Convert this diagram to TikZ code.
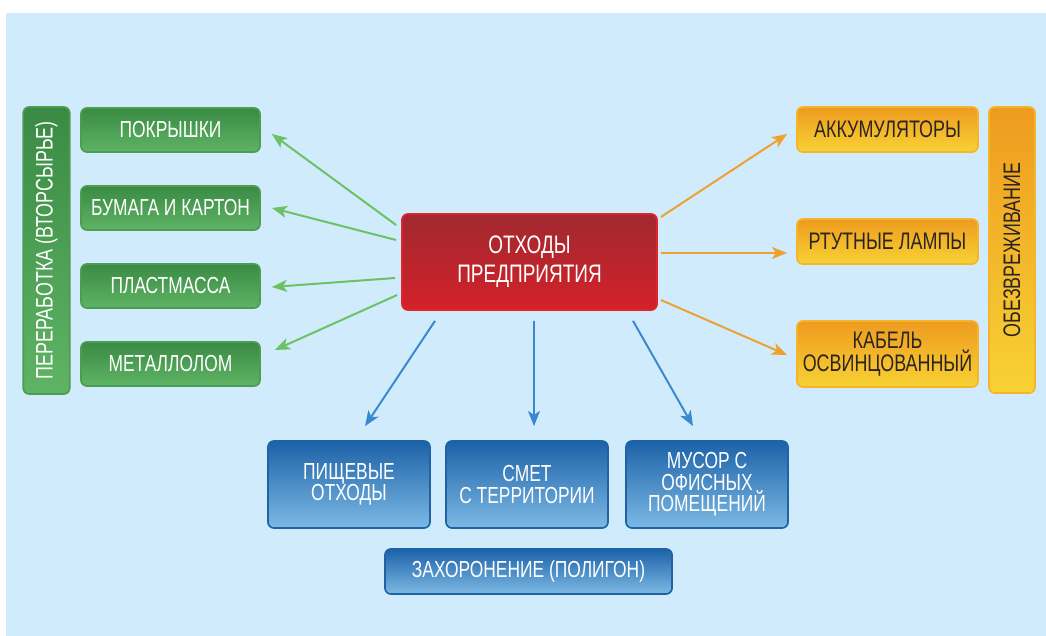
\documentclass[tikz,border=0pt]{standalone}
\usepackage{fontspec}
\setmainfont[FakeStretch=0.75]{Liberation Sans}
\usepackage{xcolor}
\usetikzlibrary{arrows.meta}

\definecolor{bgblue}{HTML}{D0EBFC}
\definecolor{grtop}{HTML}{3A8A44}
\definecolor{grbot}{HTML}{5FB464}
\definecolor{grline}{HTML}{4C9C52}
\definecolor{rdtop}{HTML}{A0292F}
\definecolor{rdbot}{HTML}{D42129}
\definecolor{rdline}{HTML}{DE252B}
\definecolor{ortop}{HTML}{EE9B1F}
\definecolor{orbot}{HTML}{F8D234}
\definecolor{orline}{HTML}{F4B52A}
\definecolor{bltop}{HTML}{1C62A8}
\definecolor{blbot}{HTML}{7DB9E4}
\definecolor{blline}{HTML}{1F63A6}
\definecolor{garr}{HTML}{6CC164}
\definecolor{oarr}{HTML}{F0A02E}
\definecolor{barr}{HTML}{3A88CF}
\definecolor{txtdark}{HTML}{2B2520}

\begin{document}
\begin{tikzpicture}[x=0.025cm,y=-0.025cm,
  box/.style={rounded corners=0.15cm,line width=1.2pt,align=center,inner sep=2pt},
  gbox/.style={box,draw=grline,top color=grtop,bottom color=grbot,text=white,
    font=\fontsize{16.5}{17}\selectfont,minimum width=4.475cm,minimum height=1.1cm},
  obox/.style={box,draw=orline,top color=ortop,bottom color=orbot,text=txtdark,
    font=\fontsize{17}{16.3}\selectfont,minimum width=4.525cm,minimum height=1.125cm},
  bbox/.style={box,draw=blline,top color=bltop,bottom color=blbot,text=white,
    font=\fontsize{16.5}{15.2}\selectfont,minimum width=4.05cm,minimum height=2.175cm},
  rbox/.style={box,draw=rdline,top color=rdtop,bottom color=rdbot,text=white,
    font=\fontsize{18}{20.5}\selectfont,minimum width=6.375cm,minimum height=2.4cm},
  vbar/.style={rotate=90,font=\fontsize{17}{18}\selectfont,minimum width=7.175cm,minimum height=1.16cm},
  garrow/.style={draw=garr,line width=1.4pt,-{Stealth[length=0.38cm,width=0.3cm,inset=0.1cm]}},
  oarrow/.style={draw=oarr,line width=1.4pt,-{Stealth[length=0.38cm,width=0.3cm,inset=0.1cm]}},
  barrow/.style={draw=barr,line width=1.4pt,-{Stealth[length=0.38cm,width=0.3cm,inset=0.1cm]}}]
  \useasboundingbox (0,0) rectangle (1046,636);
  \fill[bgblue] (6,13) rectangle (1046,636);

  \path (529.5,262) node[rbox] (ow) {ОТХОДЫ\\ПРЕДПРИЯТИЯ};

  \path (46.5,250.5) node[gbox,vbar] (pv) {ПЕРЕРАБОТКА (ВТОРСЫРЬЕ)};
  \path (170.5,130)
    node[gbox] (pk) {ПОКРЫШКИ} ++(0,78)
    node[gbox] (bk) {БУМАГА И КАРТОН} ++(0,78)
    node[gbox] (pm) {ПЛАСТМАССА} ++(0,78)
    node[gbox] (ml) {МЕТАЛЛОЛОМ};

  \path (1012,250) node[obox,vbar,minimum width=7.15cm,minimum height=1.15cm] (ob) {ОБЕЗВРЕЖИВАНИЕ};
  \path (887.5,129.5)
    node[obox] (ak) {АККУМУЛЯТОРЫ} ++(0,112)
    node[obox] (rl) {РТУТНЫЕ ЛАМПЫ} ++(0,112.5)
    node[obox,minimum height=1.65cm] (ko) {КАБЕЛЬ\\ОСВИНЦОВАННЫЙ};

  \path (349,484.5)
    node[bbox] (po) {ПИЩЕВЫЕ\\ОТХОДЫ} ++(178,0)
    node[bbox] (sm) {СМЕТ\\С ТЕРРИТОРИИ} ++(180,0)
    node[bbox] (mu) {МУСОР С\\ОФИСНЫХ\\ПОМЕЩЕНИЙ};
  \path (528.5,571.5) node[bbox,minimum width=7.175cm,minimum height=1.125cm] (zp) {ЗАХОРОНЕНИЕ (ПОЛИГОН)};

  \path (node cs:name=ow,anchor=west) +(-5,-37) coordinate (g1s) {};
  \path (node cs:name=pk,anchor=east) +(11,4) coordinate (g1e) {};
  \draw[garrow] (g1s) -- (g1e);
  \path (node cs:name=ow,anchor=west) +(-5,-22) coordinate (g2s) {};
  \path (node cs:name=bk,anchor=east) +(11,0) coordinate (g2e) {};
  \draw[garrow] (g2s) -- (g2e);
  \path (node cs:name=ow,anchor=west) +(-6,16) coordinate (g3s) {};
  \path (node cs:name=pm,anchor=east) +(11,1) coordinate (g3e) {};
  \draw[garrow] (g3s) -- (g3e);
  \path (node cs:name=ow,anchor=west) +(-4,33) coordinate (g4s) {};
  \path (node cs:name=ml,anchor=east) +(14,-14) coordinate (g4e) {};
  \draw[garrow] (g4s) -- (g4e);

  \path (node cs:name=ow,anchor=east) +(3,-45) coordinate (o1s) {};
  \path (node cs:name=ak,anchor=west) +(-9,4.5) coordinate (o1e) {};
  \draw[oarrow] (o1s) -- (o1e);
  \path (node cs:name=ow,anchor=east) +(3,-9) coordinate (o2s) {};
  \path (node cs:name=rl,anchor=west) +(-9,11.5) coordinate (o2e) {};
  \draw[oarrow] (o2s) -- (o2e);
  \path (node cs:name=ow,anchor=east) +(3,38) coordinate (o3s) {};
  \path (node cs:name=ko,anchor=west) +(-9,1) coordinate (o3e) {};
  \draw[oarrow] (o3s) -- (o3e);

  \path (node cs:name=ow,anchor=south) +(-94.5,10) coordinate (b1s) {};
  \path (node cs:name=po,anchor=north) +(16,-14) coordinate (b1e) {};
  \draw[barrow] (b1s) -- (b1e);
  \path (node cs:name=ow,anchor=south) +(4.5,10) coordinate (b2s) {};
  \path (node cs:name=sm,anchor=north) +(7,-14) coordinate (b2e) {};
  \draw[barrow] (b2s) -- (b2e);
  \path (node cs:name=ow,anchor=south) +(103.5,10) coordinate (b3s) {};
  \path (node cs:name=mu,anchor=north) +(-14,-14) coordinate (b3e) {};
  \draw[barrow] (b3s) -- (b3e);
\end{tikzpicture}
\end{document}
